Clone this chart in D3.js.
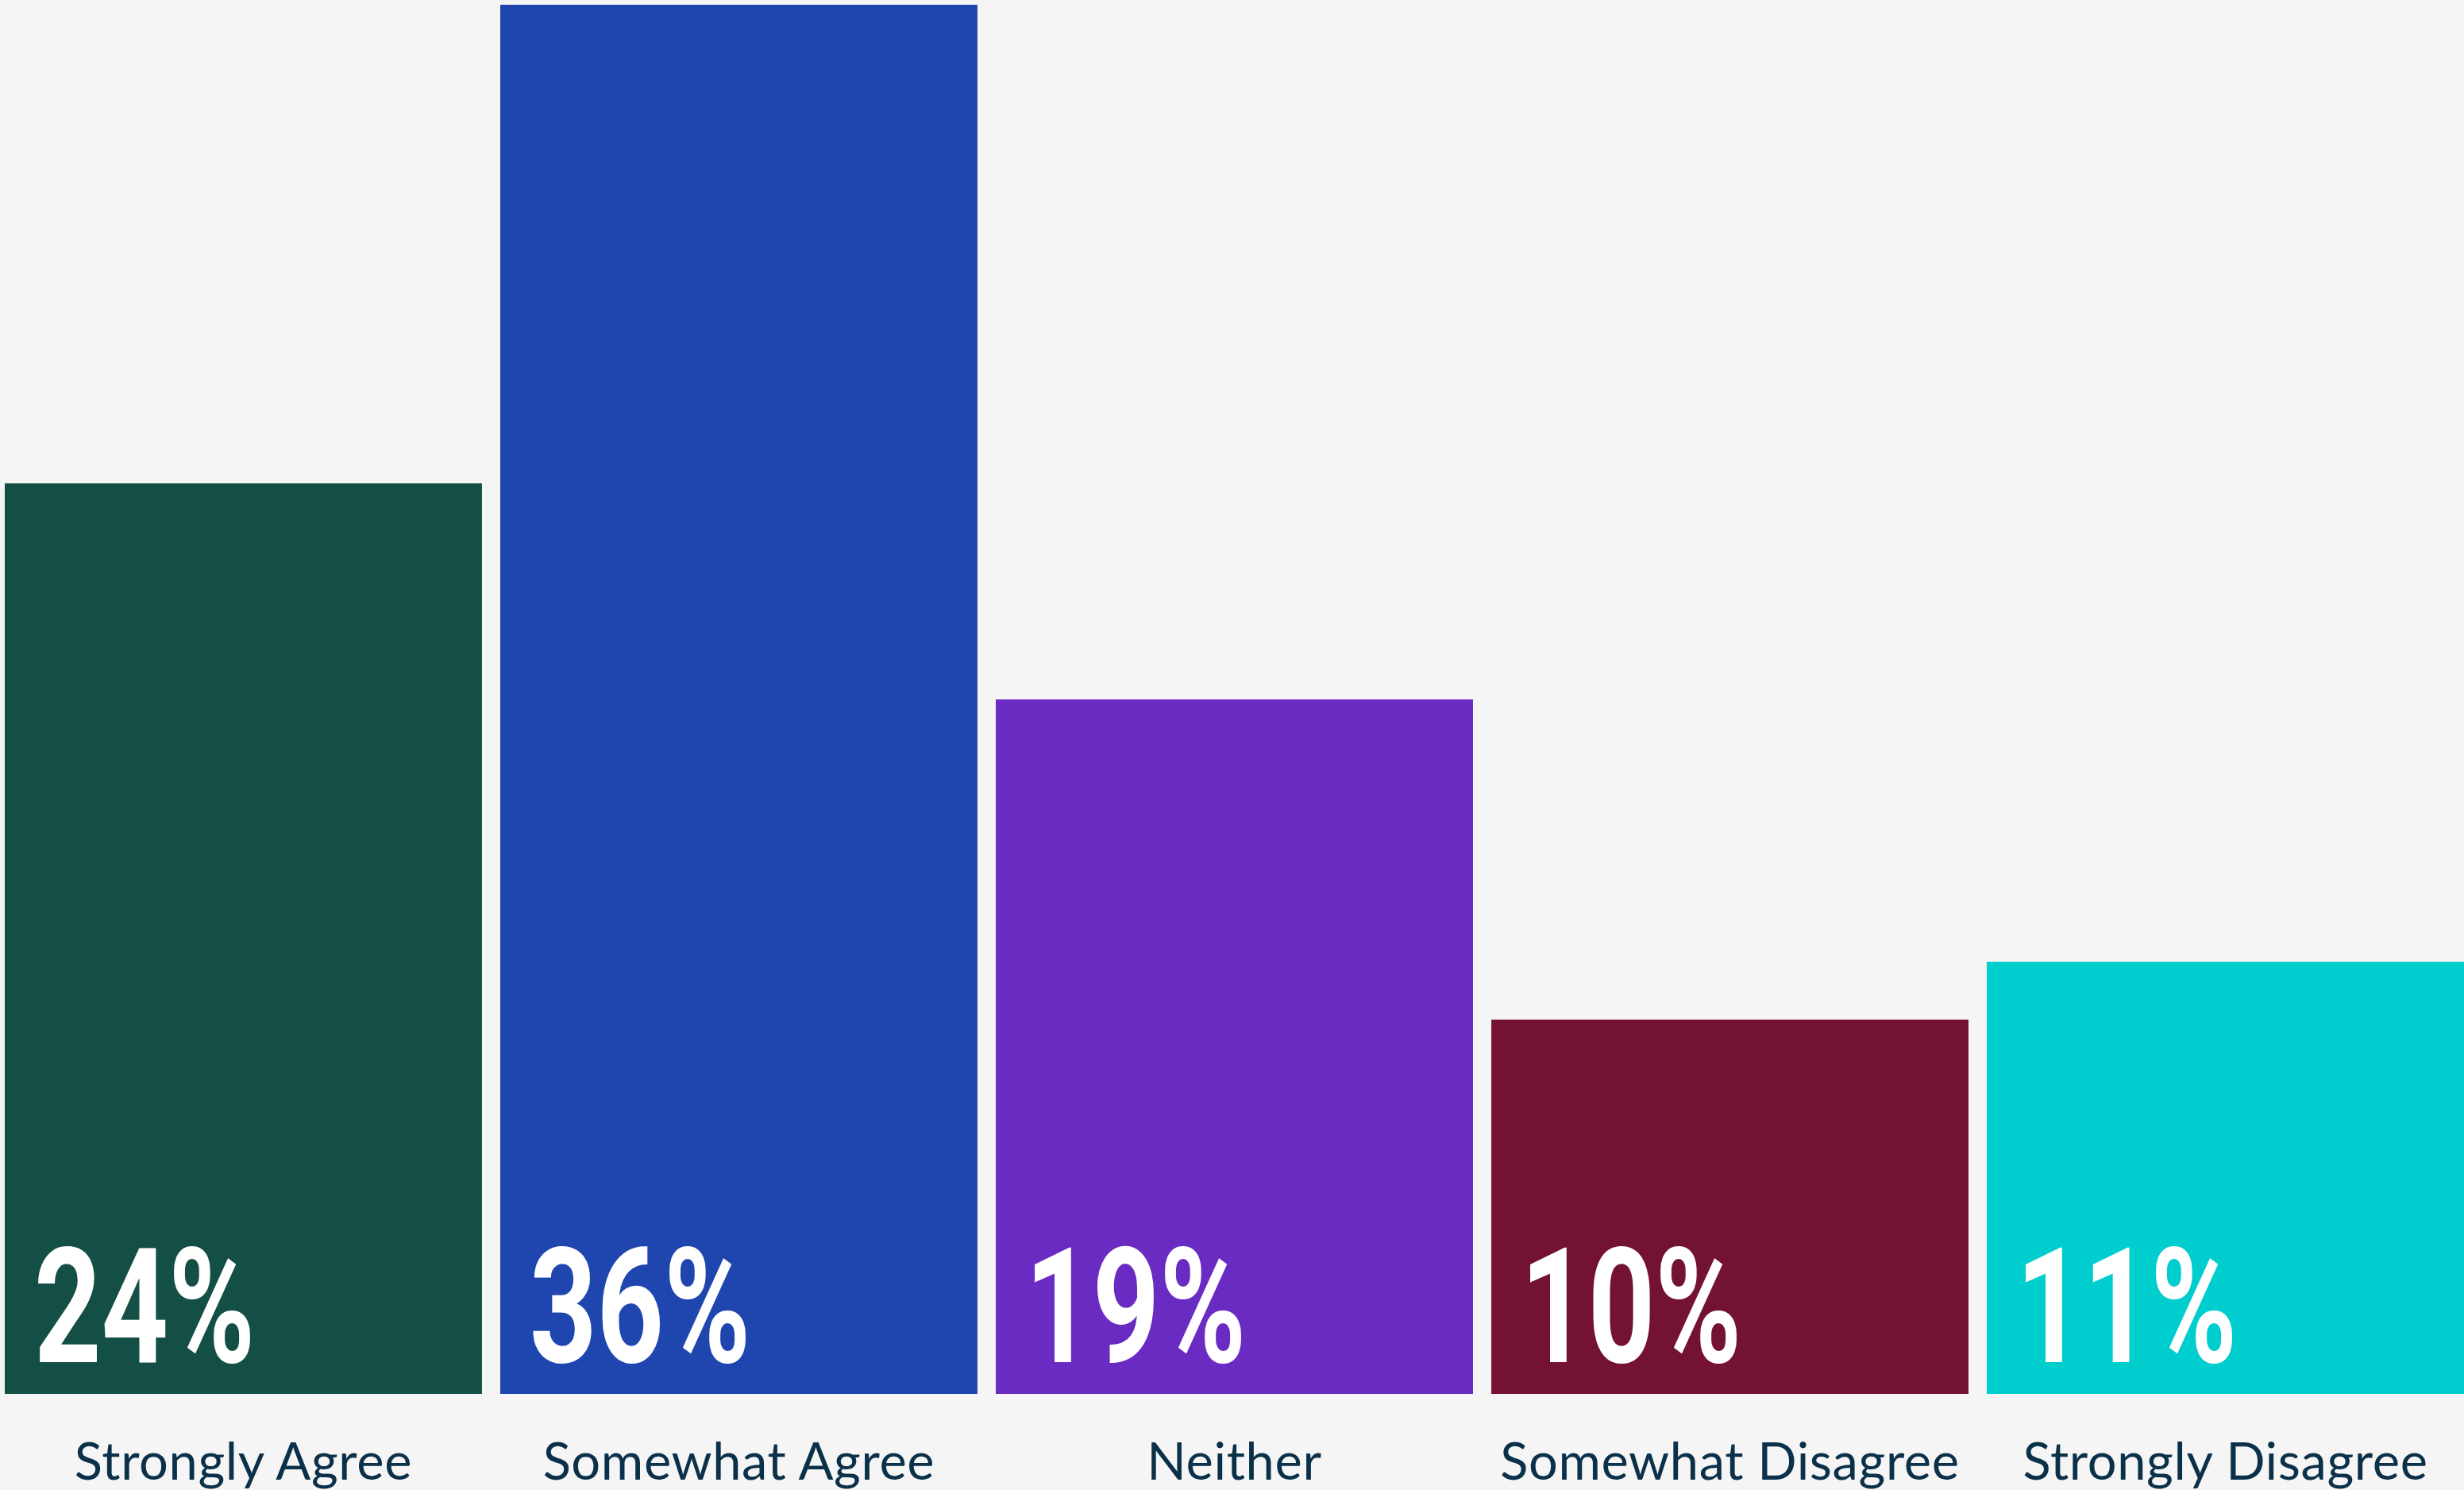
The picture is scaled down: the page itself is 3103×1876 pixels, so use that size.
<!DOCTYPE html>
<html>
<head>
<meta charset="utf-8">
<script src="https://cdn.jsdelivr.net/npm/d3@7"></script>
<style>
  html, body { margin: 0; padding: 0; background: #f5f5f5; }
  .chart { width: 3103px; height: 1876px; overflow: hidden; }
  .cat-label { font-family: Lato, "Noto Sans", sans-serif; font-size: 65px; letter-spacing: 0.6px; fill: #0b3049; }
  .pct-label { font-family: Roboto, "Noto Sans", sans-serif; font-weight: 700; font-size: 202px; fill: #ffffff; }
</style>
</head>
<body>
<div class="chart"></div>
<script>
// Data
var categories = ["Strongly Agree", "Somewhat Agree", "Neither", "Somewhat Disagree", "Strongly Disagree"];
// bar heights as drawn (percent)
var barValues = [23.6, 36, 18.0, 9.7, 11.2];
// printed labels
var valueLabels = ["24%", "36%", "19%", "10%", "11%"];
var barColors = ["#134f44", "#1f46af", "#6a2bc3", "#741331", "#00cdcd"];

var svgWidth = 3103;
var svgHeight = 1876;

var svg = d3
  .select(".chart")
  .append("svg")
  .attr("width", svgWidth)
  .attr("height", svgHeight);

svg.append("rect")
  .attr("width", svgWidth)
  .attr("height", svgHeight)
  .attr("fill", "#f5f5f5");

// scales
var xBandScale = d3.scaleBand()
  .domain(categories)
  .range([6, 3103])
  .paddingInner(0.037)
  .paddingOuter(0);

var yLinearScale = d3.scaleLinear()
  .domain([0, 36])
  .range([1755, 6]);

var rows = categories.map(function(c, i) {
  return { cat: c, value: barValues[i], label: valueLabels[i], color: barColors[i] };
});

// bars
svg.selectAll("rect.bar")
  .data(rows)
  .enter()
  .append("rect")
  .attr("class", "bar")
  .attr("x", function(d) { return xBandScale(d.cat); })
  .attr("y", function(d) { return yLinearScale(d.value); })
  .attr("width", xBandScale.bandwidth())
  .attr("height", function(d) { return yLinearScale(0) - yLinearScale(d.value); })
  .attr("fill", function(d) { return d.color; });

// big percent labels, squeezed horizontally to look condensed
svg.selectAll("text.pct-label")
  .data(rows)
  .enter()
  .append("text")
  .attr("class", "pct-label")
  .attr("transform", function(d) {
    return "translate(" + (xBandScale(d.cat) + 37) + ",1715) scale(0.73,1)";
  })
  .text(function(d) { return d.label; });

// category labels under the bars
svg.selectAll("text.cat-label")
  .data(rows)
  .enter()
  .append("text")
  .attr("class", "cat-label")
  .attr("x", function(d) { return xBandScale(d.cat) + xBandScale.bandwidth() / 2; })
  .attr("y", 1863)
  .attr("text-anchor", "middle")
  .text(function(d) { return d.cat; });
</script>
</body>
</html>
